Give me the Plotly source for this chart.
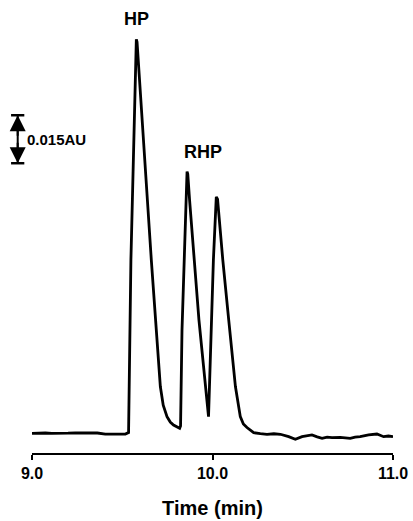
import plotly.graph_objects as go

# Chromatogram trace: time (min) and absorbance (mAU, baseline = 0)
time_min = [
    9.000, 9.030, 9.074, 9.110, 9.157, 9.200, 9.240, 9.280, 9.312, 9.362,
    9.406, 9.461, 9.517, 9.535, 9.548, 9.578, 9.582, 9.661, 9.711, 9.727,
    9.748, 9.766, 9.784, 9.818, 9.823, 9.831, 9.853, 9.859, 9.863, 9.873,
    9.925, 9.978, 10.005, 10.021, 10.028, 10.057, 10.090, 10.127, 10.154, 10.171,
    10.191, 10.228, 10.265, 10.302, 10.340, 10.376, 10.422, 10.459, 10.496, 10.525,
    10.551, 10.580, 10.607, 10.635, 10.662, 10.708, 10.735, 10.763, 10.790, 10.818,
    10.865, 10.911, 10.948, 10.975, 11.000,
]
absorbance_mau = [
    0.00, 0.12, 0.09, -0.05, -0.09, 0.05, 0.16, 0.10, 0.22, 0.09,
    -0.28, -0.31, -0.22, 0.25, 54.2, 123.1, 122.3, 54.2, 14.6, 8.8,
    5.2, 3.5, 2.6, 1.6, 2.3, 32.3, 72.9, 81.8, 81.0, 72.9,
    35.4, 5.2, 54.2, 73.9, 73.2, 54.2, 35.4, 14.6, 5.2, 2.9,
    1.8, 0.19, -0.10, -0.31, -0.15, -0.31, -1.06, -1.88, -1.06, -0.80,
    -0.53, -1.10, -1.56, -1.20, -1.38, -1.25, -1.45, -1.56, -1.20, -1.06,
    -0.53, -0.22, -1.06, -0.85, -1.06,
]

# Peak labels: (label, peak time, horizontal pixel offset of label)
peak_labels = ["HP", "RHP"]
peak_times = [9.578, 9.859]
peak_label_xshift = [0, 16]

x_tick_vals = [9.0, 10.0, 11.0]
x_tick_text = ["9.0", "10.0", "11.0"]
x_title = "Time (min)"

scale_bar_mau = 15.0
scale_bar_bottom_mau = 84.4
scale_bar_label = "0.015AU"

y_range = [-6.16, 135.41]

fig = go.Figure()
fig.add_trace(go.Scatter(
    x=time_min, y=absorbance_mau, mode="lines",
    line=dict(color="black", width=2.8, shape="linear"),
    hoverinfo="skip", showlegend=False,
))

FONT = "Liberation Sans, Arial, sans-serif"

# Peak labels positioned above each peak
for lab, t, dx in zip(peak_labels, peak_times, peak_label_xshift):
    i = min(range(len(time_min)), key=lambda k: abs(time_min[k] - t))
    fig.add_annotation(
        x=time_min[i], y=absorbance_mau[i], xref="x", yref="y",
        text=lab, showarrow=False, xanchor="center", yanchor="bottom",
        xshift=dx, yshift=8,
        font=dict(family=FONT, size=18, color="black", weight="bold"),
    )

# Scale bar (0.015 AU)
bar_x = -0.0396
bar_top = scale_bar_bottom_mau + scale_bar_mau
bar_mid = scale_bar_bottom_mau + scale_bar_mau / 2
fig.add_shape(type="line", xref="paper", yref="y", x0=bar_x, x1=bar_x,
              y0=scale_bar_bottom_mau, y1=bar_top,
              line=dict(color="black", width=2))
for yv in (scale_bar_bottom_mau, bar_top):
    fig.add_shape(type="line", xref="paper", yref="y", x0=-0.058, x1=-0.0213,
                  y0=yv, y1=yv, line=dict(color="black", width=2.5))
for yv, ay in ((bar_top, 22), (scale_bar_bottom_mau, -22)):
    fig.add_annotation(x=bar_x, y=yv, xref="paper", yref="y", text="",
                       showarrow=True, ax=0, ay=ay, arrowhead=2, arrowsize=1.6,
                       arrowwidth=2, arrowcolor="black", standoff=0)
fig.add_annotation(x=-0.019, y=bar_mid, xref="paper", yref="y",
                   text=scale_bar_label, showarrow=False, xanchor="left",
                   yanchor="middle",
                   font=dict(family=FONT, size=15, color="black", weight="bold"))

fig.update_xaxes(
    range=[9.0, 11.0], showline=True, linecolor="black", linewidth=2,
    ticks="outside", ticklen=5, tickwidth=2, tickcolor="black",
    tickvals=x_tick_vals, ticktext=x_tick_text,
    tickfont=dict(family=FONT, size=16, color="black", weight="bold"),
    showgrid=False, zeroline=False,
    title=dict(text=x_title, font=dict(family=FONT, size=20, color="black", weight="bold"),
               standoff=20),
)
fig.update_yaxes(range=y_range, visible=False, showgrid=False, zeroline=False)

fig.update_layout(
    width=413, height=521,
    margin=dict(l=32, r=20, t=0, b=68),
    plot_bgcolor="white", paper_bgcolor="white",
)

fig.write_html("out.html")
